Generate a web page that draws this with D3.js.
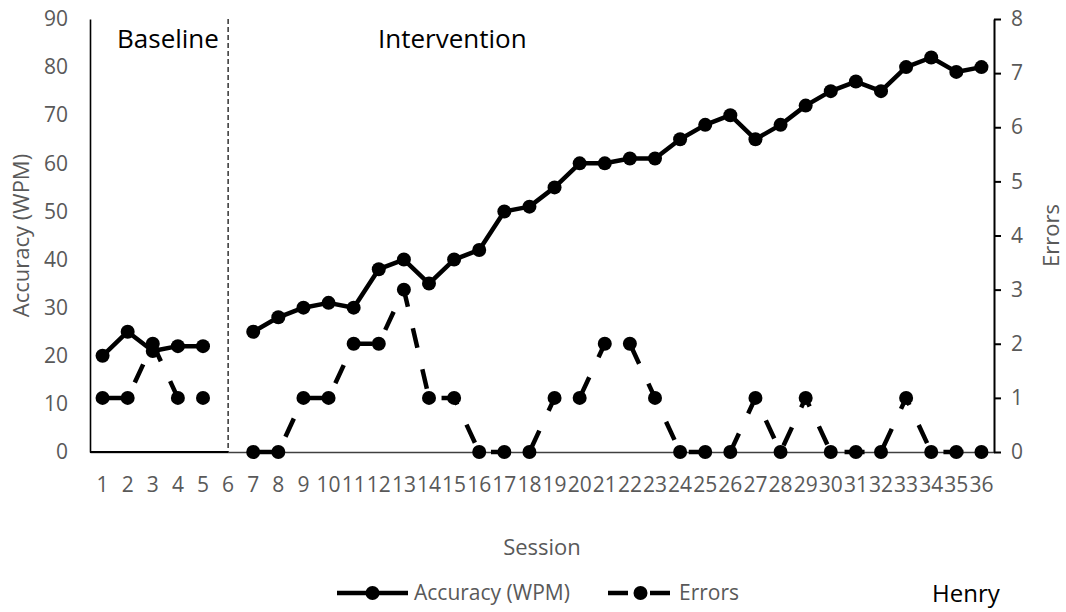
<!DOCTYPE html>
<html>
<head>
<meta charset="utf-8">
<script src="https://cdn.jsdelivr.net/npm/d3@7"></script>
<style>
  html, body { margin: 0; padding: 0; background: #fff; }
  svg { display: block; }
</style>
</head>
<body>
<svg id="chart" width="1066" height="612"></svg>
<script>
// Session numbers along the x axis
const sessions = [1, 2, 3, 4, 5, 6, 7, 8, 9, 10, 11, 12, 13, 14, 15, 16, 17, 18,
                  19, 20, 21, 22, 23, 24, 25, 26, 27, 28, 29, 30, 31, 32, 33, 34, 35, 36];
// Accuracy in words per minute (session 6 is the phase change, no data)
const accuracy = [20, 25, 21, 22, 22, null, 25, 28, 30, 31, 30, 38, 40, 35, 40, 42, 50, 51,
                  55, 60, 60, 61, 61, 65, 68, 70, 65, 68, 72, 75, 77, 75, 80, 82, 79, 80];
// Errors per session
const errors = [1, 1, 2, 1, 1, null, 0, 0, 1, 1, 2, 2, 3, 1, 1, 0, 0, 0,
                1, 1, 2, 2, 1, 0, 0, 0, 1, 0, 1, 0, 0, 0, 1, 0, 0, 0];
// Sessions where each phase starts and ends
const baselineSessions = [1, 5];
const interventionSessions = [7, 36];
const phaseChange = 6;
const leftTicks = [0, 10, 20, 30, 40, 50, 60, 70, 80, 90];
const rightTicks = [0, 1, 2, 3, 4, 5, 6, 7, 8];

const FONT = "'Open Sans', 'Noto Sans', sans-serif";
const GREY = "#595959";

const svg = d3.select("#chart");
svg.append("rect").attr("width", 1066).attr("height", 612).attr("fill", "#fff");

const plot = { left: 90, right: 994, top: 19, bottom: 452 };

const x = d3.scaleBand().domain(sessions).range([plot.left, plot.right]).padding(0);
const cx = d => x(d) + x.bandwidth() / 2;
const yL = d3.scaleLinear().domain([0, 90]).range([plot.bottom, plot.top]);
const yR = d3.scaleLinear().domain([0, 8]).range([plot.bottom, plot.top]);

function styleAxis(g, size) {
  g.attr("font-family", FONT).attr("font-size", size);
  g.selectAll("text").attr("fill", GREY);
}

// bottom axis
const gx = svg.append("g")
  .attr("transform", `translate(0,${plot.bottom})`)
  .call(d3.axisBottom(x).tickSize(0).tickPadding(25));
styleAxis(gx, 21);
gx.select(".domain").attr("stroke", "#404040").attr("stroke-width", 1.5);

// left axis
const gl = svg.append("g")
  .attr("transform", `translate(${plot.left},0)`)
  .call(d3.axisLeft(yL).tickValues(leftTicks).tickSize(0).tickPadding(22));
styleAxis(gl, 21);
gl.select(".domain").attr("stroke", "#000").attr("stroke-width", 1.6);

// right axis
const gr = svg.append("g")
  .attr("transform", `translate(${plot.right},0)`)
  .call(d3.axisRight(yR).tickValues(rightTicks).tickSizeInner(7).tickSizeOuter(0).tickPadding(10));
styleAxis(gr, 21);
gr.select(".domain").attr("stroke", "#000").attr("stroke-width", 2);
gr.selectAll(".tick line").attr("stroke", "#000").attr("stroke-width", 2);

// baseline floor segment up to the phase change
svg.append("line")
  .attr("x1", plot.left).attr("x2", cx(phaseChange))
  .attr("y1", plot.bottom).attr("y2", plot.bottom)
  .attr("stroke", "#000").attr("stroke-width", 2);

// phase change line
svg.append("line")
  .attr("x1", cx(phaseChange)).attr("x2", cx(phaseChange))
  .attr("y1", plot.top).attr("y2", plot.bottom)
  .attr("stroke", "#000").attr("stroke-width", 1.2)
  .attr("stroke-dasharray", "5,3");

// phase labels
svg.append("text").attr("x", 117).attr("y", 48)
  .attr("font-family", FONT).attr("font-size", 26).attr("fill", "#000")
  .text("Baseline");
svg.append("text").attr("x", 378).attr("y", 48)
  .attr("font-family", FONT).attr("font-size", 26).attr("fill", "#000")
  .text("Intervention");

// axis titles
svg.append("text")
  .attr("transform", `translate(29,${(plot.top + plot.bottom) / 2}) rotate(-90)`)
  .attr("text-anchor", "middle")
  .attr("font-family", FONT).attr("font-size", 22).attr("fill", GREY)
  .text("Accuracy (WPM)");
svg.append("text")
  .attr("transform", `translate(1059,${(plot.top + plot.bottom) / 2}) rotate(-90)`)
  .attr("text-anchor", "middle")
  .attr("font-family", FONT).attr("font-size", 22).attr("fill", GREY)
  .text("Errors");
svg.append("text")
  .attr("x", (plot.left + plot.right) / 2).attr("y", 555)
  .attr("text-anchor", "middle")
  .attr("font-family", FONT).attr("font-size", 22).attr("fill", GREY)
  .text("Session");

// series rows
const rows = sessions.map((s, i) => ({ s, acc: accuracy[i], err: errors[i] }));
const inPhase = (r, range) => r.s >= range[0] && r.s <= range[1];
const phases = [baselineSessions, interventionSessions];

const accLine = d3.line().x(d => cx(d.s)).y(d => yL(d.acc));
const errLine = d3.line().x(d => cx(d.s)).y(d => yR(d.err));

// accuracy: solid line with round markers
phases.forEach(range => {
  svg.append("path")
    .datum(rows.filter(r => inPhase(r, range) && r.acc != null))
    .attr("d", accLine)
    .attr("fill", "none").attr("stroke", "#000")
    .attr("stroke-width", 4.5).attr("stroke-linejoin", "round");
});
svg.append("g").selectAll("circle")
  .data(rows.filter(r => r.acc != null))
  .join("circle")
  .attr("cx", d => cx(d.s)).attr("cy", d => yL(d.acc)).attr("r", 7)
  .attr("fill", "#000");

// errors: dashed line with round markers
phases.forEach(range => {
  svg.append("path")
    .datum(rows.filter(r => inPhase(r, range) && r.err != null))
    .attr("d", errLine)
    .attr("fill", "none").attr("stroke", "#000")
    .attr("stroke-width", 4.5).attr("stroke-dasharray", "20,22");
});
svg.append("g").selectAll("circle")
  .data(rows.filter(r => r.err != null))
  .join("circle")
  .attr("cx", d => cx(d.s)).attr("cy", d => yR(d.err)).attr("r", 7)
  .attr("fill", "#000");

// legend
const legendY = 593;
const legend = [
  { name: "Accuracy (WPM)", x1: 337, x2: 408, dash: null },
  { name: "Errors", x1: 608, x2: 673, dash: "20,22" }
];
legend.forEach(item => {
  const g = svg.append("g");
  g.append("line")
    .attr("x1", item.x1).attr("x2", item.x2)
    .attr("y1", legendY).attr("y2", legendY)
    .attr("stroke", "#000").attr("stroke-width", 4.5)
    .attr("stroke-dasharray", item.dash);
  g.append("circle")
    .attr("cx", (item.x1 + item.x2) / 2).attr("cy", legendY).attr("r", 7)
    .attr("fill", "#000");
  g.append("text")
    .attr("x", item.x2 + 6).attr("y", legendY).attr("dy", "0.35em")
    .attr("font-family", FONT).attr("font-size", 21).attr("fill", GREY)
    .text(item.name);
});

// participant name
svg.append("text").attr("x", 932).attr("y", 602)
  .attr("font-family", FONT).attr("font-size", 24).attr("fill", "#000")
  .text("Henry");
</script>
</body>
</html>
